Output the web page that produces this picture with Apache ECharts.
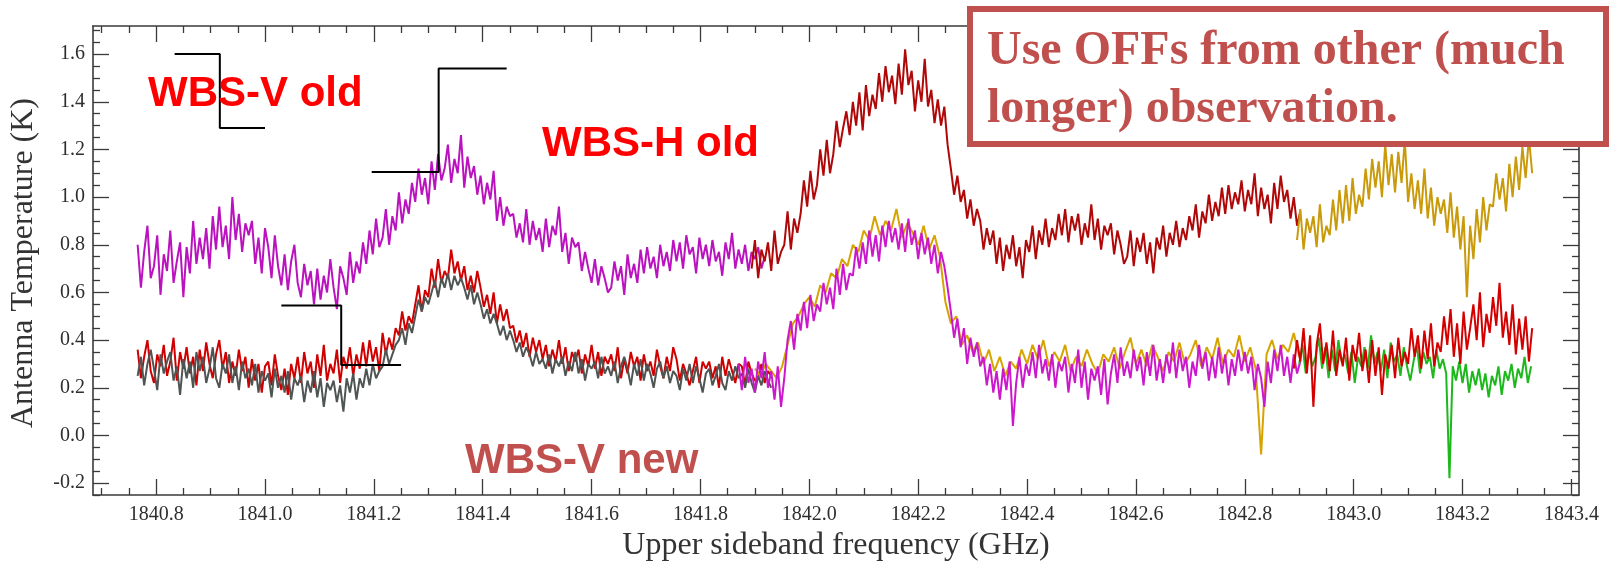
<!DOCTYPE html>
<html>
<head>
<meta charset="utf-8">
<script src="https://cdn.jsdelivr.net/npm/echarts@6/dist/echarts.min.js"></script>
<style>
html,body{margin:0;padding:0;background:#fff;}
#chart{width:1610px;height:567px;}
</style>
</head>
<body>
<div id="chart"></div>
<script>
// ---------- axis ranges & tick labels ----------
const X_MIN = 1840.684, X_MAX = 1843.414;
const Y_MIN = -0.25, Y_MAX = 1.718;
const xMajorTicks = [1840.8,1841.0,1841.2,1841.4,1841.6,1841.8,1842.0,1842.2,1842.4,1842.6,1842.8,1843.0,1843.2,1843.4];
const yMajorTicks = [-0.2,0.0,0.2,0.4,0.6,0.8,1.0,1.2,1.4,1.6];
const xTitle = 'Upper sideband frequency (GHz)';
const yTitle = 'Antenna Temperature (K)';

// ---------- spectra (frequency grid: start + i*step, GHz) ----------
const upperMagentaStart = 1840.766, upperMagentaStep = 0.006;
const upperMagenta = [
0.80,0.62,0.77,0.88,0.66, 0.71,0.84,0.59,0.76,0.69, 0.86,0.64,0.73,0.81,0.58, 0.79,0.68,0.90,0.72,0.83,
0.74,0.87,0.70,0.92,0.78, 0.96,0.79,0.88,0.74,1.00, 0.82,0.93,0.77,0.89,0.84, 0.90,0.72,0.83,0.68,0.87,
0.79,0.66,0.84,0.71,0.63, 0.76,0.61,0.73,0.80,0.64, 0.58,0.72,0.63,0.69,0.55, 0.70,0.57,0.67,0.60,0.74,
0.62,0.53,0.71,0.66,0.59, 0.77,0.64,0.73,0.68,0.81, 0.72,0.86,0.76,0.91,0.79, 0.83,0.95,0.80,0.92,0.86,
1.02,0.89,0.99,0.93,1.06, 0.98,1.12,1.01,1.08,0.97, 1.15,1.03,1.18,1.07,1.12, 1.22,1.06,1.16,1.10,1.26,
1.04,1.17,1.08,1.13,1.01, 1.09,0.97,1.06,0.99,1.11, 0.90,1.00,0.88,0.96,0.92, 0.93,0.83,0.89,0.81,0.95,
0.80,0.90,0.82,0.87,0.77, 0.91,0.79,0.88,0.84,0.96, 0.77,0.85,0.72,0.83,0.79, 0.81,0.69,0.77,0.70,0.64,
0.74,0.63,0.71,0.66,0.60, 0.62,0.73,0.65,0.71,0.59, 0.76,0.66,0.72,0.64,0.78, 0.68,0.79,0.70,0.75,0.66,
0.80,0.71,0.77,0.69,0.82, 0.73,0.81,0.70,0.84,0.76, 0.79,0.68,0.83,0.74,0.80, 0.71,0.82,0.73,0.77,0.67,
0.81,0.74,0.85,0.70,0.78, 0.72,0.80,0.69,0.77,0.74, 0.79,0.70,0.75];

const upperDarkRedStart = 1841.894, upperDarkRedStep = 0.006;
const upperDarkRed = [
0.70,0.82,0.66,0.78,0.73, 0.81,0.69,0.86,0.72,0.77, 0.80,0.94,0.78,0.91,0.85, 0.93,1.07,0.96,1.11,0.99,
1.05,1.20,1.09,1.24,1.10, 1.18,1.32,1.21,1.29,1.36, 1.26,1.40,1.30,1.44,1.28, 1.47,1.34,1.43,1.37,1.52,
1.40,1.55,1.44,1.51,1.39, 1.56,1.43,1.62,1.47,1.53, 1.36,1.49,1.40,1.58,1.38, 1.45,1.31,1.41,1.30,1.38,
1.22,1.12,1.01,1.09,0.98, 1.03,0.91,0.99,0.88,0.95, 0.90,0.78,0.87,0.80,0.86, 0.72,0.83,0.69,0.80,0.74,
0.84,0.71,0.79,0.66,0.82, 0.77,0.88,0.74,0.86,0.80, 0.91,0.79,0.87,0.82,0.93, 0.84,0.95,0.81,0.92,0.86,
0.93,0.80,0.89,0.83,0.97, 0.82,0.91,0.78,0.88,0.84, 0.89,0.76,0.86,0.80,0.72, 0.75,0.86,0.71,0.83,0.77,
0.85,0.72,0.81,0.68,0.83, 0.78,0.88,0.75,0.85,0.80, 0.90,0.79,0.87,0.82,0.92, 0.86,0.97,0.83,0.94,0.89,
1.01,0.90,0.98,0.92,1.04, 0.93,1.05,0.95,1.02,0.97, 1.07,0.94,1.03,0.97,1.10, 0.92,1.04,0.95,1.01,0.89,
1.06,0.95,1.09,0.98,1.03, 0.91,1.00,0.88,0.94];

const upperGoldStart = 1842.896, upperGoldStep = 0.006;
const upperGold = [
0.82,0.95,0.78,0.91,0.85, 0.92,0.79,0.97,0.81,0.88, 0.84,0.99,0.86,1.03,0.89, 1.05,0.90,1.08,0.93,1.01,
0.96,1.12,0.99,1.16,1.04, 1.15,1.00,1.22,1.05,1.18, 1.02,1.19,1.06,1.24,0.98, 1.10,0.95,1.07,0.93,1.12,
0.91,1.04,0.88,1.00,0.93, 0.99,0.85,1.02,0.83,0.96, 0.78,0.92,0.58,0.88,0.74, 0.95,0.81,1.00,0.86,0.97,
0.96,1.10,0.99,1.08,0.94, 1.14,1.00,1.17,1.03,1.21, 1.08,1.25,1.10];

const lowerRedStart = 1840.766, lowerRedStep = 0.006;
const lowerRed = [
0.36,0.24,0.33,0.40,0.27, 0.22,0.34,0.29,0.38,0.25, 0.31,0.41,0.23,0.35,0.28, 0.37,0.26,0.33,0.21,0.36,
0.27,0.39,0.30,0.24,0.34, 0.40,0.28,0.35,0.22,0.31, 0.25,0.36,0.27,0.33,0.20, 0.32,0.23,0.30,0.18,0.29,
0.31,0.21,0.34,0.25,0.19, 0.28,0.17,0.30,0.24,0.33, 0.22,0.35,0.26,0.31,0.20, 0.34,0.25,0.38,0.23,0.30,
0.26,0.36,0.22,0.33,0.28, 0.37,0.25,0.34,0.28,0.39, 0.29,0.40,0.31,0.37,0.27, 0.43,0.34,0.41,0.36,0.45,
0.42,0.52,0.44,0.50,0.47, 0.55,0.63,0.52,0.61,0.58, 0.70,0.62,0.74,0.64,0.69, 0.66,0.78,0.68,0.73,0.65,
0.71,0.61,0.67,0.60,0.69, 0.62,0.54,0.59,0.51,0.60, 0.47,0.55,0.48,0.53,0.45, 0.46,0.39,0.44,0.37,0.43,
0.33,0.41,0.35,0.40,0.32, 0.38,0.29,0.36,0.31,0.40, 0.30,0.37,0.27,0.35,0.31, 0.36,0.26,0.34,0.29,0.38,
0.28,0.35,0.25,0.33,0.30, 0.34,0.27,0.37,0.24,0.32, 0.26,0.35,0.29,0.33,0.23, 0.34,0.27,0.31,0.25,0.36,
0.29,0.24,0.33,0.27,0.37, 0.32,0.23,0.30,0.26,0.21, 0.27,0.33,0.22,0.31,0.28, 0.31,0.24,0.29,0.20,0.33,
0.25,0.32,0.27,0.22,0.30, 0.29,0.21,0.31,0.26,0.23, 0.24,0.30,0.22,0.27,0.25];

const lowerGrayStart = 1840.766, lowerGrayStep = 0.006;
const lowerGray = [
0.25,0.33,0.21,0.30,0.36, 0.28,0.19,0.34,0.26,0.31, 0.35,0.23,0.29,0.17,0.32, 0.24,0.31,0.20,0.35,0.27,
0.33,0.22,0.28,0.37,0.24, 0.20,0.30,0.26,0.34,0.22, 0.29,0.19,0.31,0.24,0.28, 0.21,0.30,0.18,0.27,0.23,
0.26,0.16,0.28,0.20,0.25, 0.18,0.27,0.15,0.24,0.21, 0.25,0.14,0.23,0.18,0.27, 0.16,0.24,0.12,0.22,0.19,
0.23,0.14,0.21,0.10,0.24, 0.18,0.26,0.15,0.24,0.20, 0.28,0.21,0.30,0.24,0.27, 0.29,0.36,0.30,0.34,0.38,
0.40,0.45,0.38,0.47,0.43, 0.50,0.57,0.52,0.58,0.55, 0.60,0.65,0.58,0.66,0.62, 0.68,0.61,0.67,0.63,0.66,
0.62,0.57,0.63,0.55,0.60, 0.55,0.49,0.53,0.47,0.51, 0.47,0.42,0.46,0.40,0.44, 0.40,0.35,0.39,0.33,0.37,
0.34,0.29,0.35,0.30,0.32, 0.28,0.34,0.26,0.32,0.29, 0.33,0.25,0.31,0.27,0.35, 0.26,0.32,0.23,0.30,0.28,
0.31,0.24,0.33,0.26,0.29, 0.25,0.31,0.22,0.29,0.33, 0.28,0.21,0.30,0.25,0.32, 0.23,0.30,0.26,0.20,0.28,
0.31,0.24,0.29,0.22,0.27, 0.25,0.19,0.28,0.23,0.30, 0.22,0.29,0.24,0.18,0.26, 0.28,0.21,0.25,0.30,0.22,
0.19,0.27,0.23,0.29,0.24, 0.26,0.20,0.28,0.22,0.18, 0.25,0.21,0.27,0.23,0.20];

const lowerMagentaStart = 1841.87, lowerMagentaStep = 0.006;
const lowerMagenta = [
0.30,0.19,0.33,0.22,0.28, 0.18,0.31,0.24,0.35,0.20, 0.27,0.15,0.29,0.12,0.24, 0.40,0.48,0.36,0.51,0.44,
0.56,0.45,0.59,0.48,0.55, 0.52,0.64,0.55,0.62,0.53, 0.70,0.59,0.72,0.61,0.68, 0.67,0.79,0.70,0.81,0.72,
0.86,0.75,0.84,0.73,0.88, 0.79,0.90,0.81,0.87,0.78, 0.89,0.77,0.91,0.80,0.86, 0.74,0.85,0.76,0.83,0.72,
0.80,0.68,0.77,0.71,0.62, 0.52,0.41,0.49,0.37,0.45, 0.30,0.41,0.33,0.39,0.29, 0.33,0.21,0.30,0.18,0.27,
0.15,0.28,0.19,0.31,0.04, 0.22,0.33,0.20,0.30,0.25, 0.35,0.24,0.38,0.26,0.32, 0.23,0.34,0.20,0.31,0.27,
0.33,0.18,0.30,0.22,0.36, 0.20,0.31,0.15,0.28,0.23, 0.29,0.17,0.32,0.13,0.26, 0.34,0.22,0.37,0.25,0.31,
0.24,0.36,0.27,0.33,0.21, 0.35,0.25,0.38,0.23,0.32, 0.22,0.34,0.26,0.39,0.24, 0.36,0.27,0.33,0.20,0.31,
0.25,0.38,0.28,0.35,0.23, 0.33,0.24,0.37,0.26,0.34, 0.21,0.32,0.25,0.36,0.27, 0.35,0.26,0.33,0.19,0.30,
0.24,0.12,0.31,0.22,0.36, 0.27,0.38,0.25,0.33,0.22, 0.34,0.26,0.31];

const lowerGoldStart = 1841.90, lowerGoldStep = 0.01;
const lowerGold = [
0.28,0.25,0.30,0.27,0.24,0.29,0.38,0.47,0.50,0.55,
0.58,0.54,0.63,0.60,0.68,0.66,0.74,0.71,0.80,0.77,
0.86,0.82,0.92,0.84,0.90,0.86,0.95,0.83,0.89,0.85,
0.80,0.88,0.78,0.84,0.75,0.56,0.47,0.50,0.38,0.42,
0.35,0.39,0.30,0.36,0.27,0.33,0.25,0.31,0.28,0.36,
0.30,0.38,0.32,0.40,0.29,0.35,0.31,0.38,0.27,0.33,
0.29,0.36,0.30,0.26,0.34,0.31,0.37,0.28,0.35,0.41,
0.30,0.36,0.29,0.38,0.33,0.27,0.35,0.31,0.39,0.30,
0.34,0.40,0.29,0.37,0.32,0.41,0.30,0.36,0.33,0.42,
0.31,0.37,0.28,-0.08,0.34,0.40,0.32,0.38,0.35,0.43,
0.33];

const lowerRed2Start = 1842.89, lowerRed2Step = 0.006;
const lowerRed2 = [
0.28,0.40,0.31,0.45,0.26, 0.42,0.12,0.38,0.47,0.30, 0.39,0.27,0.44,0.25,0.36, 0.29,0.41,0.23,0.38,0.31,
0.43,0.27,0.36,0.22,0.40, 0.25,0.37,0.17,0.34,0.28, 0.38,0.24,0.41,0.29,0.35, 0.30,0.45,0.33,0.42,0.28,
0.44,0.32,0.47,0.29,0.39, 0.35,0.50,0.38,0.53,0.33, 0.47,0.30,0.52,0.36,0.45, 0.55,0.40,0.60,0.37,0.51,
0.43,0.58,0.46,0.64,0.41, 0.52,0.38,0.55,0.34,0.49, 0.36,0.50,0.31,0.45];

const lowerGreenStart = 1842.90, lowerGreenStep = 0.006;
const lowerGreen = [
0.30,0.38,0.26,0.35,0.29, 0.33,0.41,0.28,0.37,0.24, 0.36,0.27,0.40,0.31,0.34, 0.26,0.35,0.22,0.33,0.29,
0.37,0.28,0.42,0.30,0.35, 0.27,0.36,0.24,0.39,0.31, 0.34,0.25,0.37,0.29,0.23, 0.31,0.38,0.26,0.35,0.30,
0.33,0.24,0.36,0.28,0.32, 0.26,-0.18,0.29,0.23,0.31, 0.22,0.30,0.18,0.27,0.21, 0.28,0.19,0.26,0.16,0.25,
0.21,0.29,0.17,0.27,0.23, 0.30,0.20,0.28,0.24,0.33, 0.22,0.29];

// ---------- black step markers (frequency GHz, temperature K) ----------
const markerA = [[1840.834,1.60],[1840.917,1.60],[1840.917,1.29],[1841.0,1.29]];
const markerB = [[1841.196,1.105],[1841.319,1.105],[1841.319,1.54],[1841.444,1.54]];
const markerC = [[1841.03,0.545],[1841.14,0.545],[1841.14,0.295],[1841.25,0.295]];

// ---------- annotation texts ----------
const labelVOld = 'WBS-V old';
const labelHOld = 'WBS-H old';
const labelVNew = 'WBS-V new';
const boxLines = ['Use OFFs from other (much', 'longer) observation.'];

// ---------- build ----------
function build(start, step, vals) {
  return vals.map((v, i) => [Math.round((start + i * step) * 10000) / 10000, v]);
}
function minorTicks(lo, hi, step, majors) {
  const out = [];
  for (let v = lo; v <= hi + 1e-9; v += step) {
    const r = Math.round(v * 100) / 100;
    if (!majors.some(m => Math.abs(m - r) < 1e-6)) out.push(r);
  }
  return out;
}
const xMinorTicks = minorTicks(1840.70, 1843.40, 0.05, xMajorTicks);
const yMinorTicks = minorTicks(-0.25, 1.70, 0.05, yMajorTicks);

const AX = '#3a3a3a';
const serif = '"Liberation Serif", "Times New Roman", serif';

function xAx(pos, ticks, len, main) {
  return {
    type: 'value', position: pos, min: X_MIN, max: X_MAX, gridIndex: 0,
    axisLine: { show: main, onZero: false, lineStyle: { color: AX, width: 1.6 } },
    axisTick: { show: true, inside: true, length: len, customValues: ticks, lineStyle: { color: AX, width: 1.3 } },
    axisLabel: (main && pos === 'bottom') ? {
      show: true, customValues: xMajorTicks, margin: 10,
      formatter: v => Number(v).toFixed(1),
      fontFamily: serif, fontSize: 20, color: '#2e2e2e'
    } : { show: false },
    splitLine: { show: false },
    name: (main && pos === 'bottom') ? xTitle : '',
    nameLocation: 'middle', nameGap: 35,
    nameTextStyle: { fontFamily: serif, fontSize: 32, color: '#333' }
  };
}
function yAx(pos, ticks, len, main) {
  return {
    type: 'value', position: pos, min: Y_MIN, max: Y_MAX, gridIndex: 0,
    axisLine: { show: main, onZero: false, lineStyle: { color: AX, width: 1.6 } },
    axisTick: { show: true, inside: true, length: len, customValues: ticks, lineStyle: { color: AX, width: 1.3 } },
    axisLabel: (main && pos === 'left') ? {
      show: true, customValues: yMajorTicks, margin: 8,
      formatter: v => Number(v).toFixed(1),
      fontFamily: serif, fontSize: 20, color: '#2e2e2e'
    } : { show: false },
    splitLine: { show: false }
  };
}

function spec(name, data, color, w) {
  return {
    name: name, type: 'line', data: data, showSymbol: false, symbol: 'none',
    lineStyle: { color: color, width: w || 2 }, itemStyle: { color: color },
    silent: true, animation: false, z: 2
  };
}
function marker(data) {
  return {
    type: 'line', data: data, showSymbol: false, symbol: 'none',
    lineStyle: { color: '#000', width: 2 }, silent: true, animation: false, z: 5
  };
}

const chart = echarts.init(document.getElementById('chart'), null, { renderer: 'canvas' });
chart.setOption({
  animation: false,
  backgroundColor: '#ffffff',
  grid: { left: 93, right: 31, top: 26, bottom: 64, containLabel: false },
  xAxis: [
    xAx('bottom', xMajorTicks, 16, true),
    xAx('bottom', xMinorTicks, 7, false),
    xAx('top', xMajorTicks, 16, true),
    xAx('top', xMinorTicks, 7, false)
  ],
  yAxis: [
    yAx('left', yMajorTicks, 16, true),
    yAx('left', yMinorTicks, 7, false),
    yAx('right', yMajorTicks, 16, true),
    yAx('right', yMinorTicks, 7, false)
  ],
  series: [
    spec('WBS-V old', build(upperMagentaStart, upperMagentaStep, upperMagenta), '#bb12bf'),
    spec('WBS-H old', build(upperDarkRedStart, upperDarkRedStep, upperDarkRed), '#b00808'),
    spec('OFF other obs', build(upperGoldStart, upperGoldStep, upperGold), '#c99a0a'),
    spec('lower red', build(lowerRedStart, lowerRedStep, lowerRed), '#d00000'),
    spec('lower gray', build(lowerGrayStart, lowerGrayStep, lowerGray), '#4f5553'),
    spec('lower gold', build(lowerGoldStart, lowerGoldStep, lowerGold), '#d6a400'),
    spec('WBS-V new', build(lowerMagentaStart, lowerMagentaStep, lowerMagenta), '#cc18cc'),
    spec('lower green', build(lowerGreenStart, lowerGreenStep, lowerGreen), '#1cb81c'),
    spec('lower red 2', build(lowerRed2Start, lowerRed2Step, lowerRed2), '#d40000'),
    marker(markerA), marker(markerB), marker(markerC)
  ],
  graphic: [
    { type: 'text', z: 50, x: 24, y: 263, rotation: Math.PI / 2,
      style: { text: yTitle, font: '32px ' + serif, fill: '#333', align: 'center', verticalAlign: 'middle' } },
    { type: 'text', z: 50, x: 148, y: 94,
      style: { text: labelVOld, font: 'bold 42px "Liberation Sans", Arial, sans-serif', fill: '#ff0000', align: 'left', verticalAlign: 'middle' } },
    { type: 'text', z: 50, x: 542, y: 144,
      style: { text: labelHOld, font: 'bold 42px "Liberation Sans", Arial, sans-serif', fill: '#ff0000', align: 'left', verticalAlign: 'middle' } },
    { type: 'text', z: 50, x: 465, y: 461,
      style: { text: labelVNew, font: 'bold 42px "Liberation Sans", Arial, sans-serif', fill: '#c0504d', align: 'left', verticalAlign: 'middle' } },
    { type: 'rect', z: 60, shape: { x: 970, y: 9, width: 636, height: 135 },
      style: { fill: '#ffffff', stroke: '#c0504d', lineWidth: 6 } },
    { type: 'text', z: 61, x: 987, y: 52,
      style: { text: boxLines[0], font: 'bold 48px ' + serif, fill: '#c0504d', align: 'left', verticalAlign: 'middle' } },
    { type: 'text', z: 61, x: 987, y: 110,
      style: { text: boxLines[1], font: 'bold 48px ' + serif, fill: '#c0504d', align: 'left', verticalAlign: 'middle' } }
  ]
});
</script>
</body>
</html>
